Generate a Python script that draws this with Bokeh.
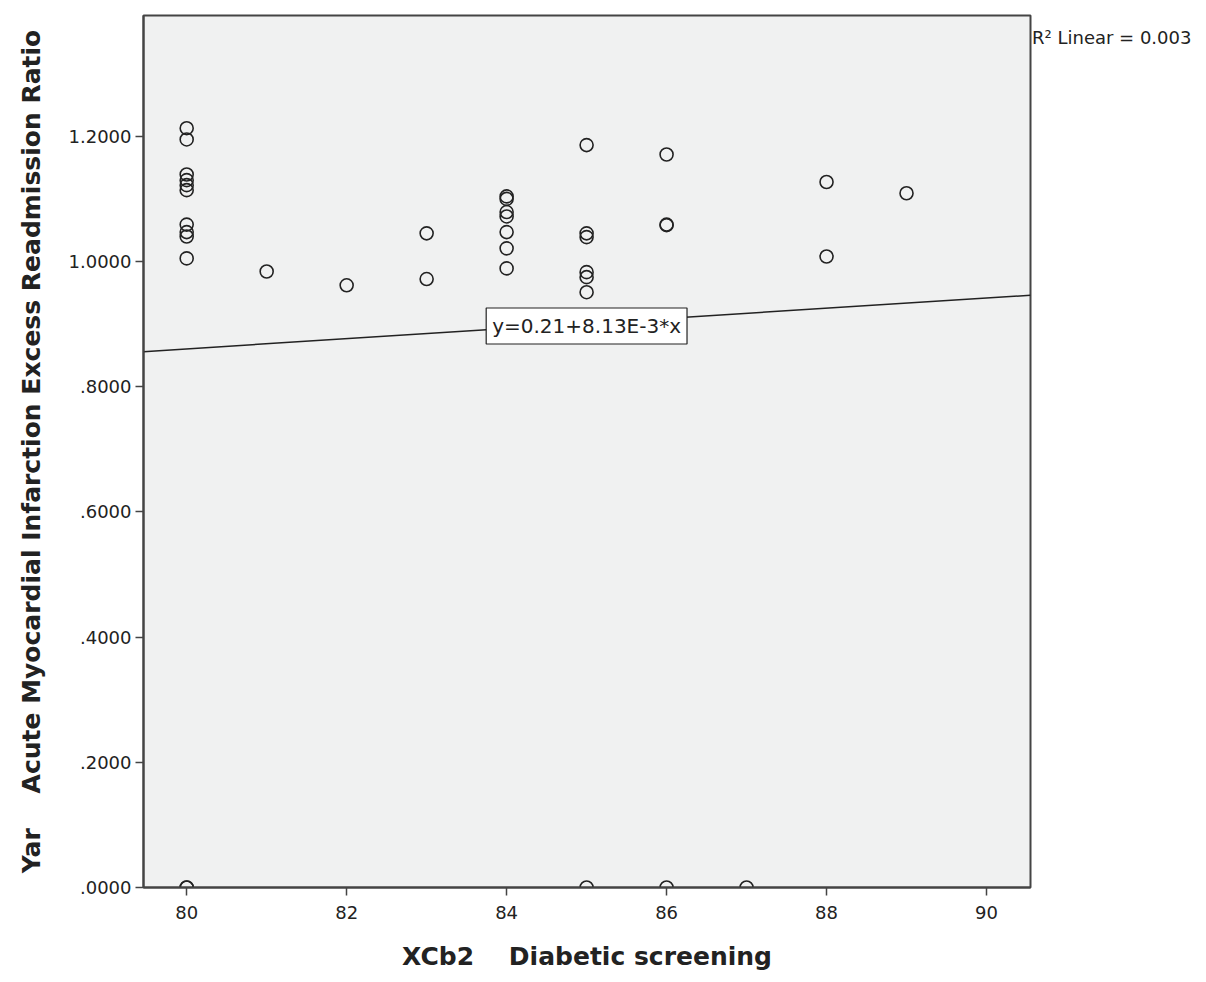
from bokeh.plotting import figure
from bokeh.models import Range1d, FixedTicker, Label, Legend, LegendItem
from bokeh.embed import file_html
from bokeh.resources import INLINE

# Diabetic screening score (x) vs. AMI excess readmission ratio (y)
x_vals = [80, 80, 80, 80, 80, 80, 80, 80, 80, 80, 80, 80,
          81, 82, 83, 83,
          84, 84, 84, 84, 84, 84, 84,
          85, 85, 85, 85, 85, 85, 85,
          86, 86, 86, 86,
          87, 88, 88, 89]
y_vals = [1.213, 1.195, 1.139, 1.130, 1.122, 1.114, 1.059, 1.047, 1.040, 1.005, 0.0, 0.0,
          0.984, 0.962, 1.045, 0.972,
          1.104, 1.100, 1.079, 1.072, 1.047, 1.021, 0.989,
          1.186, 1.045, 1.039, 0.983, 0.975, 0.951, 0.0,
          1.171, 1.059, 1.058, 0.0,
          0.0, 1.127, 1.008, 1.109]

# Linear fit reported for the data
intercept = 0.21
slope = 8.13e-3
r_squared = 0.003

x_ticks = [80, 82, 84, 86, 88, 90]
y_ticks = [0.0, 0.2, 0.4, 0.6, 0.8, 1.0, 1.2]
y_tick_labels = [".0000", ".2000", ".4000", ".6000", ".8000", "1.0000", "1.2000"]

x_lo, x_hi = 79.46, 90.55
y_lo, y_hi = 0.0, 1.393

FONT = "DejaVu Sans"
NBSP = "\u00a0"

p = figure(frame_width=887, frame_height=872, output_backend="svg", toolbar_location=None,
           x_range=Range1d(x_lo, x_hi), y_range=Range1d(y_lo, y_hi),
           min_border_left=143, min_border_right=176, min_border_top=15, min_border_bottom=95)

p.background_fill_color = "#f0f1f1"
p.border_fill_color = "white"
p.outline_line_color = "#444444"
p.outline_line_width = 2
p.grid.visible = False

# regression line across the whole x range
fx = [x_lo, x_hi]
fy = [intercept + slope * v for v in fx]
fit = p.line(fx, fy, line_color="#222222", line_width=1.5)

p.scatter(x_vals, y_vals, marker="circle", size=13, fill_color=None,
          line_color="#222222", line_width=1.6)

p.xaxis.ticker = FixedTicker(ticks=x_ticks)
p.yaxis.ticker = FixedTicker(ticks=y_ticks)
p.yaxis.major_label_overrides = {t: l for t, l in zip(y_ticks, y_tick_labels)}

for ax in (p.xaxis, p.yaxis):
    ax.axis_line_color = "#444444"
    ax.axis_line_width = 2
    ax.major_tick_line_color = "#444444"
    ax.major_tick_line_width = 1.5
    ax.major_tick_out = 8
    ax.major_tick_in = 0
    ax.minor_tick_line_color = None
    ax.major_label_text_font = FONT
    ax.major_label_text_font_size = "18px"
    ax.major_label_text_color = "#222222"
    ax.axis_label_text_font = FONT
    ax.axis_label_text_font_style = "bold"
    ax.axis_label_text_font_size = "25px"
    ax.axis_label_text_color = "#222222"

p.xaxis.axis_label = "XCb2" + NBSP * 4 + "Diabetic screening"
p.yaxis.axis_label = "Yar" + NBSP * 4 + "Acute Myocardial Infarction Excess Readmission Ratio"
p.xaxis.axis_label_standoff = 20
p.yaxis.axis_label_standoff = 20
p.xaxis.major_label_standoff = 10
p.yaxis.major_label_standoff = 4

eq = Label(x=85.0, y=0.897, text="y=%.2f+%.2fE-3*x" % (intercept, slope * 1000),
           text_align="center", text_baseline="middle",
           text_font=FONT, text_font_size="20px", text_color="#222222",
           background_fill_color="white", border_line_color="#222222",
           border_line_width=1.2, padding=6)
p.add_layout(eq)

# fit summary shown in the side panel to the right of the plot area
ghost = p.scatter([], [], marker="circle", size=1, fill_alpha=0, line_alpha=0)
r2 = Legend(items=[LegendItem(label="R\u00b2 Linear = %.3f" % r_squared, renderers=[ghost])],
            location="top_left", orientation="vertical",
            border_line_color=None, background_fill_alpha=0,
            margin=0, padding=0, spacing=0,
            glyph_width=2, glyph_height=44, label_height=44, label_standoff=0,
            label_text_font=FONT, label_text_font_size="18px", label_text_color="#222222",
            label_text_baseline="middle")
p.add_layout(r2, "right")

open("out.html", "w").write(file_html(p, INLINE))
